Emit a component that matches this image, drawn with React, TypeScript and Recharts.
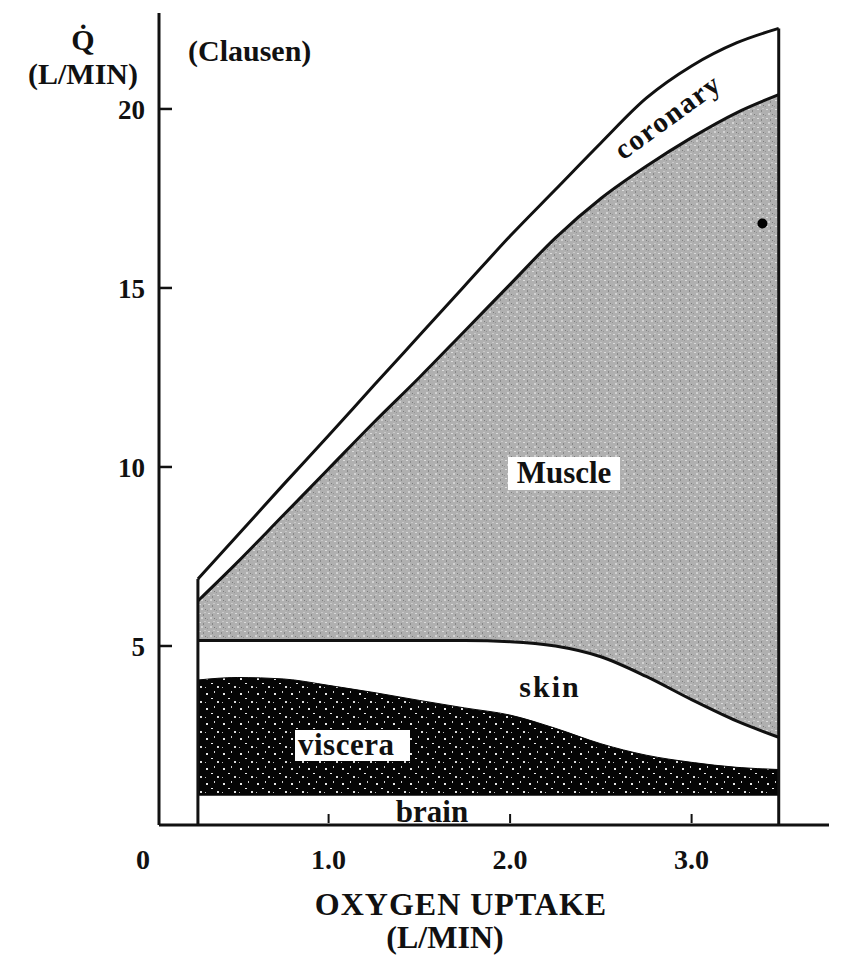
import React from 'react';
import { ComposedChart, Area, XAxis, YAxis, ReferenceLine, ReferenceDot } from 'recharts';

// Oxygen uptake (L/min) sample positions
const oxygenUptake = [0.28, 0.5, 0.75, 1.0, 1.25, 1.5, 1.75, 2.0, 2.25, 2.5, 2.75, 3.0, 3.25, 3.48];
// Cumulative upper boundaries of each band (L/min)
const totalFlow = [6.87, 8.1, 9.5, 10.88, 12.28, 13.67, 15.06, 16.45, 17.75, 19.05, 20.3, 21.2, 21.85, 22.25]; // top of coronary
const muscleTop = [6.26, 7.35, 8.65, 9.95, 11.25, 12.5, 13.8, 15.1, 16.4, 17.5, 18.4, 19.2, 19.9, 20.4];
const skinTop = [5.15, 5.15, 5.15, 5.15, 5.15, 5.15, 5.15, 5.12, 5.0, 4.7, 4.15, 3.5, 2.9, 2.45];
const visceraTop = [4.05, 4.12, 4.08, 3.9, 3.7, 3.48, 3.27, 3.07, 2.7, 2.27, 1.95, 1.75, 1.61, 1.55];
const brainTop = [0.82, 0.82, 0.82, 0.82, 0.82, 0.82, 0.82, 0.82, 0.82, 0.82, 0.82, 0.82, 0.82, 0.82];

const xDomain: [number, number] = [0.0656, 3.757];
const yDomain: [number, number] = [0, 22.68];
const xTicks = [1, 2, 3];
const xTickLabels = ['1.0', '2.0', '3.0'];
const yTicks = [5, 10, 15, 20];
const markerPoint = { x: 3.39, y: 16.8 };

const data = oxygenUptake.map((x, i) => ({
  x,
  total: totalFlow[i],
  muscle: muscleTop[i],
  skin: skinTop[i],
  viscera: visceraTop[i],
  brain: brainTop[i],
}));

const FONT = "'Liberation Serif', 'Times New Roman', serif";

const YTick = (props: any) => {
  const x = Number(props.x);
  const y = Number(props.y);
  const { payload } = props;
  return (
    <g>
      <line x1={x + 14} x2={x + 27} y1={y} y2={y} stroke="#111" strokeWidth={2.5} />
      <text x={x} y={y} dy={10} textAnchor="end" fontFamily={FONT} fontWeight="bold" fontSize={27} fill="#111">
        {payload.value}
      </text>
    </g>
  );
};

const XTick = (props: any) => {
  const x = Number(props.x);
  const y = Number(props.y);
  const { payload } = props;
  const idx = xTicks.indexOf(payload.value);
  return (
    <g>
      <line x1={x} x2={x} y1={y - 11} y2={y - 2} stroke="#111" strokeWidth={2} />
      <text x={x} y={y} dy={44} textAnchor="middle" fontFamily={FONT} fontWeight="bold" fontSize={28} fill="#111">
        {idx >= 0 ? xTickLabels[idx] : payload.value}
      </text>
    </g>
  );
};

export default function App() {
  const txt = { fontFamily: FONT, fontWeight: 'bold' as const, fill: '#111' };
  return (
    <div style={{ position: 'absolute', left: 0, top: 0, width: 842, height: 956, background: '#fff' }}>
      <ComposedChart
        width={842}
        height={956}
        data={data}
        margin={{ top: 13, right: 13, bottom: 130, left: 158 }}
      >
        <defs>
          <pattern id="muscleTex" width="9" height="9" patternUnits="userSpaceOnUse">
            <rect width="9" height="9" fill="#b0b0b0" />
            <rect x="1" y="1" width="2" height="1" fill="#dcdcdc" />
            <rect x="5" y="2" width="1" height="2" fill="#878787" />
            <rect x="3" y="5" width="2" height="2" fill="#d2d2d2" />
            <rect x="7" y="6" width="1" height="1" fill="#7a7a7a" />
            <rect x="0" y="7" width="1" height="1" fill="#969696" />
            <rect x="6" y="0" width="2" height="1" fill="#c8c8c8" />
          </pattern>
          <pattern id="visceraTex" width="17" height="15" patternUnits="userSpaceOnUse">
            <rect width="17" height="15" fill="#050505" />
            <rect x="2" y="3" width="2" height="2" fill="#e8e8e8" />
            <rect x="10" y="1" width="1" height="2" fill="#cfcfcf" />
            <rect x="7" y="8" width="2" height="1" fill="#f0f0f0" />
            <rect x="13" y="11" width="2" height="2" fill="#dadada" />
            <rect x="1" y="12" width="1" height="1" fill="#bbbbbb" />
          </pattern>
        </defs>
        <XAxis
          type="number"
          dataKey="x"
          domain={xDomain}
          ticks={xTicks}
          height={1}
          tickSize={0}
          tickMargin={0}
          tickLine={false}
          axisLine={{ stroke: '#111', strokeWidth: 3 }}
          tick={<XTick />}
          allowDataOverflow
        />
        <YAxis
          type="number"
          domain={yDomain}
          ticks={yTicks}
          width={1}
          tickSize={0}
          tickMargin={14}
          tickLine={false}
          axisLine={{ stroke: '#111', strokeWidth: 3 }}
          tick={<YTick />}
          allowDataOverflow
        />
        <Area type="monotone" dataKey="total" fill="#ffffff" fillOpacity={1} stroke="#111" strokeWidth={3} isAnimationActive={false} />
        <Area type="monotone" dataKey="muscle" fill="url(#muscleTex)" fillOpacity={1} stroke="#111" strokeWidth={3} isAnimationActive={false} />
        <Area type="monotone" dataKey="skin" fill="#ffffff" fillOpacity={1} stroke="#111" strokeWidth={3} isAnimationActive={false} />
        <Area type="monotone" dataKey="viscera" fill="url(#visceraTex)" fillOpacity={1} stroke="#050505" strokeWidth={1} isAnimationActive={false} />
        <Area type="monotone" dataKey="brain" fill="#ffffff" fillOpacity={1} stroke="none" isAnimationActive={false} />
        <ReferenceLine
          segment={[{ x: oxygenUptake[0], y: 0 }, { x: oxygenUptake[0], y: totalFlow[0] }]}
          stroke="#111"
          strokeWidth={3}
        />
        <ReferenceLine
          segment={[
            { x: oxygenUptake[oxygenUptake.length - 1], y: 0 },
            { x: oxygenUptake[oxygenUptake.length - 1], y: totalFlow[totalFlow.length - 1] },
          ]}
          stroke="#111"
          strokeWidth={3}
        />
        <ReferenceDot x={markerPoint.x} y={markerPoint.y} r={5} fill="#000" stroke="none" />
      </ComposedChart>
      <svg width={842} height={956} style={{ position: 'absolute', left: 0, top: 0, pointerEvents: 'none' }}>
        <text x={83} y={50} textAnchor="middle" fontSize={30} {...txt}>Q̇</text>
        <text x={83} y={84} textAnchor="middle" fontSize={30} {...txt}>(L/MIN)</text>
        <text x={188} y={61} textAnchor="start" fontSize={30} {...txt}>(Clausen)</text>
        <text x={668} y={126} textAnchor="middle" fontSize={29} letterSpacing={1.5} transform="rotate(-36 668 117)" {...txt}>coronary</text>
        <rect x={508} y={457} width={112} height={33} fill="#fff" />
        <text x={564} y={483} textAnchor="middle" fontSize={31} {...txt}>Muscle</text>
        <text x={550} y={697} textAnchor="middle" fontSize={30} letterSpacing={2} {...txt}>skin</text>
        <rect x={295} y={730} width={115} height={31} fill="#fff" />
        <text x={298} y={755} textAnchor="start" fontSize={31} letterSpacing={0.5} {...txt}>viscera</text>
        <text x={432} y={822} textAnchor="middle" fontSize={31} {...txt}>brain</text>
        <text x={143} y={869} textAnchor="middle" fontSize={28} {...txt}>0</text>
        <text x={461} y={915} textAnchor="middle" fontSize={32} letterSpacing={1} {...txt}>OXYGEN UPTAKE</text>
        <text x={445} y={948} textAnchor="middle" fontSize={32} {...txt}>(L/MIN)</text>
      </svg>
    </div>
  );
}
